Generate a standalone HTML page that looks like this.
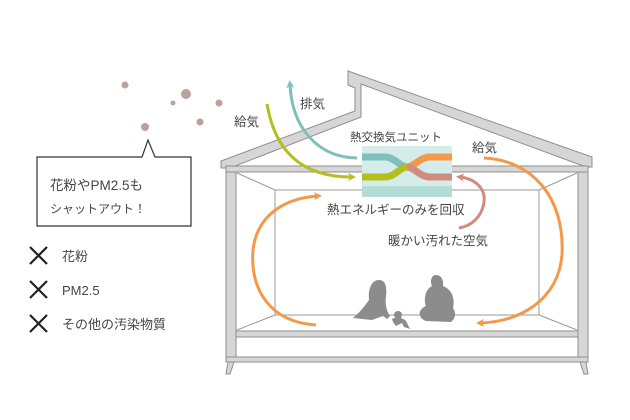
<!DOCTYPE html>
<html><head><meta charset="utf-8"><style>
html,body{margin:0;padding:0;background:#fff;}
svg{display:block;}
text{font-family:"Liberation Sans","Noto Sans CJK JP",sans-serif;fill:#444;}
</style></head><body>
<svg width="630" height="420" viewBox="0 0 630 420" xmlns="http://www.w3.org/2000/svg">
<defs>
<marker id="ao" markerWidth="8" markerHeight="8" refX="4" refY="4" orient="auto" markerUnits="userSpaceOnUse"><path d="M0,0 L8,4 L0,8 L2,4Z" fill="#f39a4a"/></marker>
<marker id="at" markerWidth="8" markerHeight="8" refX="4" refY="4" orient="auto" markerUnits="userSpaceOnUse"><path d="M0,0 L8,4 L0,8 L2,4Z" fill="#7fbfbc"/></marker>
<marker id="ay" markerWidth="8" markerHeight="8" refX="4" refY="4" orient="auto" markerUnits="userSpaceOnUse"><path d="M0,0 L8,4 L0,8 L2,4Z" fill="#b5be1e"/></marker>
<marker id="ap" markerWidth="8" markerHeight="8" refX="4" refY="4" orient="auto" markerUnits="userSpaceOnUse"><path d="M0,0 L8,4 L0,8 L2,4Z" fill="#d38a80"/></marker>
</defs>
<g fill="#b9a39b"><circle cx="125" cy="85" r="3.5"/><circle cx="186" cy="94" r="5"/><circle cx="173" cy="103" r="2.5"/><circle cx="219" cy="103" r="3.5"/><circle cx="200" cy="122" r="3.5"/><circle cx="145" cy="127" r="4"/></g>
<path d="M221,161 L355,111 L355,88 L348,85 L348,71 L592,157 L592,167 L586,167 L361,84 L361,117 L230,168 L221,168Z" fill="#d6d6d6" stroke="#8f8f8f" stroke-width="1"/>
<rect x="226" y="166" width="362" height="6" fill="#d6d6d6" stroke="#8f8f8f"/>
<rect x="226" y="172" width="10" height="190" fill="#d6d6d6" stroke="#8f8f8f"/>
<rect x="578" y="172" width="10" height="190" fill="#d6d6d6" stroke="#8f8f8f"/>
<rect x="236" y="331" width="342" height="6" fill="#d6d6d6" stroke="#8f8f8f"/>
<rect x="236" y="337" width="342" height="20" fill="#fff" stroke="#8f8f8f"/>
<rect x="226" y="357" width="362" height="5" fill="#d6d6d6" stroke="#8f8f8f"/>
<path d="M228,362 L234,362 L230,374 L226,374Z M586,362 L580,362 L584,374 L588,374Z" fill="#d6d6d6" stroke="#8f8f8f"/>
<g stroke="#9a9a9a" fill="none" stroke-width="1">
<rect x="275" y="190" width="264" height="125"/>
<line x1="237" y1="173" x2="275" y2="190"/><line x1="577" y1="173" x2="539" y2="190"/>
<line x1="237" y1="330" x2="275" y2="315"/><line x1="577" y1="330" x2="539" y2="315"/>
</g>
<rect x="362" y="146" width="90" height="51" fill="#d4ecea"/>
<rect x="362" y="186" width="90" height="11" fill="#b3dcd5"/>
<path d="M362,157 L385,157 C395,157 400,167 407,167" stroke="#7fbfbc" stroke-width="7" fill="none"/>
<path d="M407,167 C414,167 420,157 430,157 L452,157" stroke="#f39a4a" stroke-width="7" fill="none"/>
<path d="M362,177 L385,177 C395,177 400,167 407,167" stroke="#b5be1e" stroke-width="7" fill="none"/>
<path d="M407,167 C414,167 420,177 430,177 L452,177" stroke="#d38a80" stroke-width="7" fill="none"/>
<path d="M357,158 C320,158 292,130 290,84" stroke="#7fbfbc" stroke-width="3" fill="none" marker-end="url(#at)"/>
<path d="M267,104 C275,150 300,177 352,177" stroke="#b5be1e" stroke-width="3" fill="none" marker-end="url(#ay)"/>
<path d="M484,158 C530,160 565,195 562,255 C558,300 520,322 480,323" stroke="#f39a4a" stroke-width="3" fill="none" marker-end="url(#ao)"/>
<path d="M316,325 C270,322 250,290 253,250 C257,215 285,198 318,196" stroke="#f39a4a" stroke-width="3" fill="none" marker-end="url(#ao)"/>
<path d="M459,228 C482,224 488,200 482,190 C477,181 468,178 460,177" stroke="#d38a80" stroke-width="3" fill="none" marker-end="url(#ap)"/>
<g fill="#8c8c8c">
<path d="M379,280 C371,280 368,290 369,300 C364,307 360,312 353,318 L372,320 L383,316 L387,319 L390,316 C386,310 385,303 386,296 C387,288 386,280 379,280Z"/>
<circle cx="398" cy="315" r="4"/><path d="M392,319 C395,317 402,317 406,321 L410,329 L404,327 L402,323 L396,326 L393,322Z"/>
<path d="M436,275 C431,275 430,282 432,286 C424,290 424,302 426,306 C417,310 418,318 426,321 L451,322 C456,318 456,312 453,308 C455,300 453,290 443,286 C444,280 441,275 436,275Z"/>
</g>
<g font-size="12.5">
<text x="300" y="108">排気</text>
<text x="234" y="126">給気</text>
<text x="472" y="152">給気</text>
<text x="350" y="141" font-size="11.5">熱交換気ユニット</text>
<text x="327" y="214">熱エネルギーのみを回収</text>
<text x="388" y="245">暖かい汚れた空気</text>
</g>
<path d="M37,157 L142,157 L148,140 L155,157 L191,157 L191,226 L37,226Z" fill="#fff" stroke="#333" stroke-width="1.2"/>
<text x="50" y="190" font-size="13.5">花粉やPM2.5も</text>
<text x="50" y="213" font-size="12">シャットアウト！</text>
<g stroke="#222" stroke-width="2.2">
<path d="M30,247 L47,264 M47,247 L30,264"/>
<path d="M30,281 L47,298 M47,281 L30,298"/>
<path d="M30,315 L47,332 M47,315 L30,332"/>
</g>
<g font-size="13"><text x="62" y="261">花粉</text><text x="62" y="295">PM2.5</text><text x="62" y="329">その他の汚染物質</text></g>
</svg>
</body></html>
